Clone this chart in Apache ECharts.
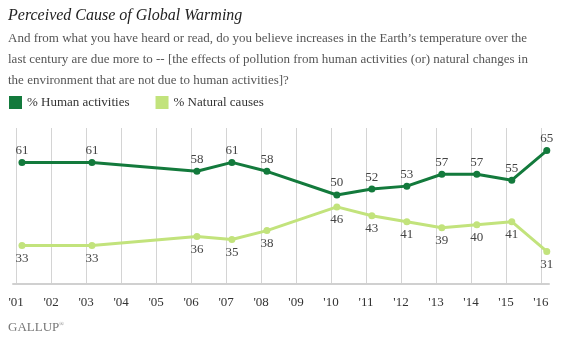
<!DOCTYPE html>
<html>
<head>
<meta charset="utf-8">
<script src="https://cdn.jsdelivr.net/npm/echarts@6/dist/echarts.min.js"></script>
<style>
html,body{margin:0;padding:0;background:#fff;}
#chart{width:565px;height:345px;}
</style>
</head>
<body>
<div id="chart"></div>
<script>
// ---- data ----
const years = [2001, 2003, 2006, 2007, 2008, 2010, 2011, 2012, 2013, 2014, 2015, 2016];
const humanActivities = [61, 61, 58, 61, 58, 50, 52, 53, 57, 57, 55, 65];
const naturalCauses = [33, 33, 36, 35, 38, 46, 43, 41, 39, 40, 41, 31];
const tickYears = [2001, 2002, 2003, 2004, 2005, 2006, 2007, 2008, 2009, 2010, 2011, 2012, 2013, 2014, 2015, 2016];
const pollMonth = 3; // polls fielded in March
const seriesNames = ['% Human activities', '% Natural causes'];
const titleText = 'Perceived Cause of Global Warming';
const questionLines = [
  'And from what you have heard or read, do you believe increases in the Earth\u2019s temperature over the',
  'last century are due more to -- [the effects of pollution from human activities (or) natural changes in',
  'the environment that are not due to human activities]?'
];

// ---- chart ----
const FONT = '"Liberation Serif", "DejaVu Serif", serif';
const DARK = '#137a3c';
const LIGHT = '#c2e37c';
const toX = (y) => y + (pollMonth - 1) / 12;

const chart = echarts.init(document.getElementById('chart'), null, {renderer: 'canvas'});

const titles = [{
  text: titleText, left: 8, top: 8, padding: 0,
  textStyle: {fontFamily: FONT, fontStyle: 'italic', fontWeight: 'normal', fontSize: 16, color: '#222'}
}];
questionLines.forEach((t, i) => titles.push({
  text: t, left: 8, top: 32 + i * 21, padding: 0,
  textStyle: {fontFamily: FONT, fontWeight: 'normal', fontSize: 13, color: '#555'}
}));

function mk(name, vals, color, pos, dist) {
  return {
    name: name, type: 'line',
    data: years.map((y, i) => [toX(y), vals[i]]),
    symbol: 'circle', symbolSize: 7,
    lineStyle: {width: 3, color: color},
    itemStyle: {color: color},
    clip: false,
    label: {show: true, position: pos, distance: dist, fontFamily: FONT, fontSize: 13, color: '#444'},
    emphasis: {disabled: true},
    z: name === seriesNames[0] ? 3 : 2
  };
}

chart.setOption({
  animation: false,
  title: titles,
  legend: {
    left: 9, top: 96, padding: 0, icon: 'rect', itemWidth: 13, itemHeight: 13, itemGap: 26,
    textStyle: {fontFamily: FONT, fontSize: 13, color: '#333'},
    data: seriesNames
  },
  grid: {left: 13, right: 16, top: 128, bottom: 61},
  xAxis: {
    type: 'value', min: 2000.91, max: 2016.23,
    axisLine: {show: true, lineStyle: {color: '#d0d0d0', width: 2}},
    axisTick: {show: false, customValues: tickYears},
    splitLine: {show: true, lineStyle: {color: '#d4d4d4', width: 1}},
    axisLabel: {
      customValues: tickYears, margin: 12,
      fontFamily: FONT, fontSize: 13, color: '#333',
      formatter: (v) => "'" + String(Math.round(v)).slice(2)
    }
  },
  yAxis: {type: 'value', min: 20, max: 72.6, show: false, splitLine: {show: false}},
  graphic: [{
    type: 'text', left: 8, top: 321,
    style: {
      text: '{a|GALLUP}{b|\u00ae}',
      rich: {
        a: {fontFamily: FONT, fontSize: 13, fill: '#777'},
        b: {fontFamily: FONT, fontSize: 6, fill: '#777', verticalAlign: 'top', padding: [0, 0, 6, 0]}
      }
    }
  }],
  series: [
    mk(seriesNames[0], humanActivities, DARK, 'top', 2),
    mk(seriesNames[1], naturalCauses, LIGHT, 'bottom', 3)
  ]
});
</script>
</body>
</html>
